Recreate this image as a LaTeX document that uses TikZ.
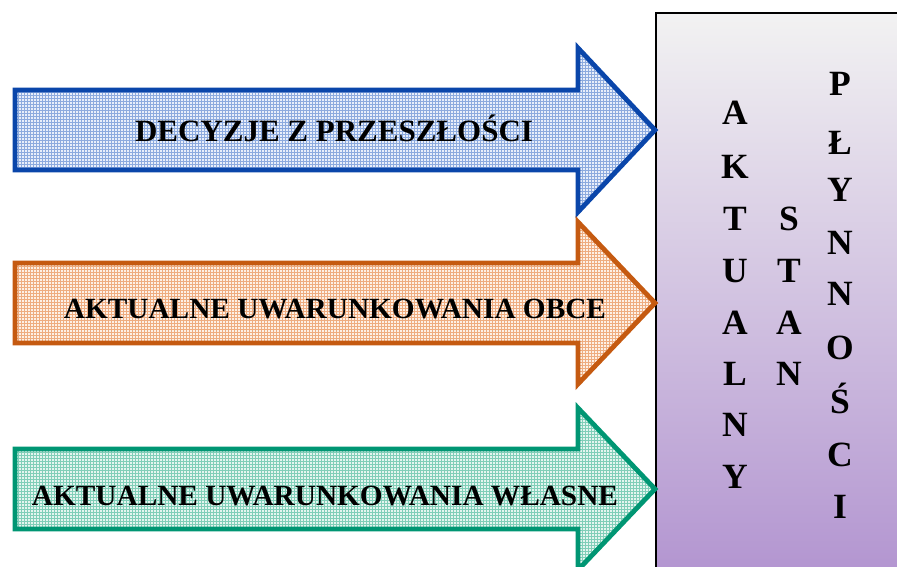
\documentclass[tikz,border=0pt]{standalone}
\usepackage{fontspec}
\setmainfont{Liberation Serif}
\usetikzlibrary{patterns}
\definecolor{blueedge}{RGB}{10,70,170}
\definecolor{bluefill}{RGB}{232,238,250}
\definecolor{bluepat}{RGB}{140,170,222}
\definecolor{orangeedge}{RGB}{197,90,17}
\definecolor{orangefill}{RGB}{253,240,230}
\definecolor{orangepat}{RGB}{238,172,128}
\definecolor{greenedge}{RGB}{0,150,115}
\definecolor{greenfill}{RGB}{228,245,239}
\definecolor{greenpat}{RGB}{128,206,184}
\definecolor{boxtop}{RGB}{242,242,242}
\definecolor{boxbot}{RGB}{178,148,208}
\tikzset{
  arrowtxt/.style={font=\fontsize{29.3}{29.3}\selectfont\bfseries, inner sep=0pt, text height=20pt, text depth=0pt},
  bigtxt/.style={arrowtxt, font=\fontsize{31}{31}\selectfont\bfseries},
  letter/.style={font=\fontsize{35.5}{35.5}\selectfont\bfseries, inner sep=0pt, text height=23.5pt, text depth=0pt},
  edge/.style={line width=4.8pt, line join=miter, miter limit=10},
}
\begin{document}
\begin{tikzpicture}[x=1pt,y=-1pt]
\useasboundingbox (0,0) rectangle (897,566);
% box
\begin{scope}
\clip (0,0) rectangle (897,566);
\shade[top color=boxtop, bottom color=boxbot] (656,13) rectangle (910,580);
\draw[line width=2pt] (910,13) -- (656,13) -- (656,580);
\end{scope}
% arrows
\begin{scope}
\clip (0,0) rectangle (897,566);
% blue
\fill[bluefill] (15,90) -- (578,90) -- (578,48) -- (655,130) -- (578,212) -- (578,170) -- (15,170) -- cycle;
\fill[pattern=grid, pattern color=bluepat] (15,90) -- (578,90) -- (578,48) -- (655,130) -- (578,212) -- (578,170) -- (15,170) -- cycle;
\draw[edge, blueedge] (15,90) -- (578,90) -- (578,48) -- (655,130) -- (578,212) -- (578,170) -- (15,170) -- cycle;
% orange
\fill[orangefill] (15,263) -- (578,263) -- (578,222) -- (655,303) -- (578,384) -- (578,343) -- (15,343) -- cycle;
\fill[pattern=grid, pattern color=orangepat] (15,263) -- (578,263) -- (578,222) -- (655,303) -- (578,384) -- (578,343) -- (15,343) -- cycle;
\draw[edge, orangeedge] (15,263) -- (578,263) -- (578,222) -- (655,303) -- (578,384) -- (578,343) -- (15,343) -- cycle;
% green
\fill[greenfill] (15,449) -- (578,449) -- (578,408) -- (655,489) -- (578,570) -- (578,529) -- (15,529) -- cycle;
\fill[pattern=grid, pattern color=greenpat] (15,449) -- (578,449) -- (578,408) -- (655,489) -- (578,570) -- (578,529) -- (15,529) -- cycle;
\draw[edge, greenedge] (15,449) -- (578,449) -- (578,408) -- (655,489) -- (578,570) -- (578,529) -- (15,529) -- cycle;
\end{scope}
% arrow texts
\node[bigtxt] (t1) at (334,131) {DECYZJE Z PRZESZŁOŚCI};
\node[arrowtxt] (t2) at (335,308) {AKTUALNE UWARUNKOWANIA OBCE};
\node[arrowtxt] (t3) at (325,495) {AKTUALNE UWARUNKOWANIA WŁASNE};
% column 1
\node[letter] (a1) at (735,113) {A};
\node[letter] (a2) at (735,167) {K};
\node[letter] (a3) at (735,219) {T};
\node[letter] (a4) at (735,271) {U};
\node[letter] (a5) at (735,323) {A};
\node[letter] (a6) at (735,374) {L};
\node[letter] (a7) at (735,425) {N};
\node[letter] (a8) at (735,477) {Y};
% column 2
\node[letter] (s1) at (789,219) {S};
\node[letter] (s2) at (789,271) {T};
\node[letter] (s3) at (789,323) {A};
\node[letter] (s4) at (789,374) {N};
% column 3
\node[letter] (p1) at (840,84) {P};
\node[letter] (p2) at (840,143) {Ł};
\node[letter] (p3) at (840,190) {Y};
\node[letter] (p4) at (840,243) {N};
\node[letter] (p5) at (840,294) {N};
\node[letter] (p6) at (840,348) {O};
\node[letter] (p7) at (840,402) {Ś};
\node[letter] (p8) at (840,455) {C};
\node[letter] (p9) at (840,507) {I};
\end{tikzpicture}
\end{document}
